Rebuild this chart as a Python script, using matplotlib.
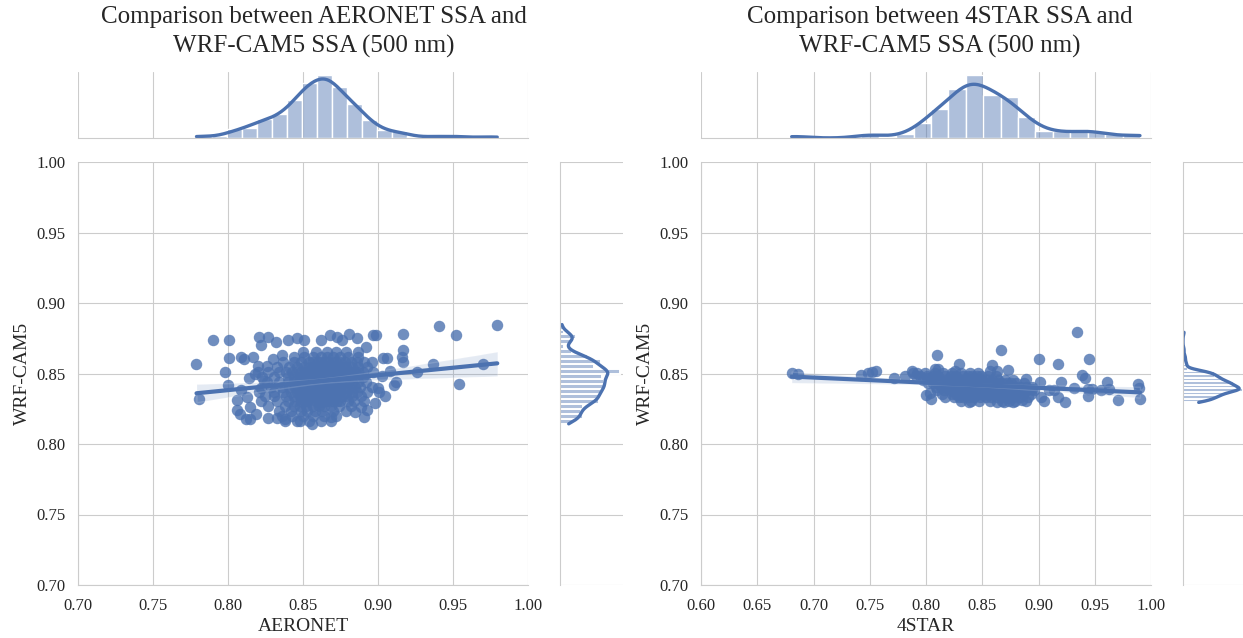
"""Two joint plots: WRF-CAM5 SSA against AERONET and 4STAR SSA (500 nm)."""

import matplotlib

matplotlib.use("Agg")
import matplotlib.pyplot as plt
import numpy as np
import seaborn as sns

BLUE = "#4c72b0"

# AERONET vs WRF-CAM5: dense core, one row of x values per WRF-CAM5 level
aeronet_row_y = [0.8161, 0.8196, 0.8231, 0.8266, 0.8302, 0.8337, 0.8372, 0.8407,
                 0.8442, 0.8477, 0.8513, 0.8548, 0.8583, 0.8618, 0.8653]
aeronet_row_x = [
    [0.838, 0.846, 0.854, 0.862, 0.869],
    [0.836, 0.843, 0.850, 0.857, 0.864, 0.872],
    [0.834, 0.842, 0.849, 0.853, 0.858, 0.863, 0.870, 0.879],
    [0.827, 0.838, 0.844, 0.848, 0.852, 0.857, 0.861, 0.864, 0.869, 0.874, 0.882],
    [0.822, 0.833, 0.840, 0.845, 0.849, 0.851, 0.853, 0.855, 0.859, 0.861, 0.863,
     0.864, 0.866, 0.868, 0.870, 0.873, 0.875, 0.880, 0.884, 0.891],
    [0.825, 0.831, 0.839, 0.844, 0.848, 0.850, 0.853, 0.856, 0.858, 0.860, 0.862,
     0.865, 0.868, 0.870, 0.872, 0.876, 0.879, 0.883, 0.889],
    [0.821, 0.831, 0.837, 0.842, 0.846, 0.849, 0.852, 0.854, 0.856, 0.859, 0.861,
     0.863, 0.865, 0.867, 0.870, 0.872, 0.875, 0.879, 0.883, 0.886, 0.893],
    [0.829, 0.836, 0.841, 0.845, 0.848, 0.851, 0.853, 0.856, 0.858, 0.860, 0.862,
     0.864, 0.866, 0.868, 0.870, 0.873, 0.875, 0.878, 0.881, 0.885, 0.888, 0.896],
    [0.826, 0.834, 0.840, 0.844, 0.847, 0.850, 0.852, 0.854, 0.856, 0.858, 0.861,
     0.863, 0.865, 0.867, 0.868, 0.871, 0.874, 0.877, 0.880, 0.883, 0.887, 0.892],
    [0.823, 0.831, 0.840, 0.844, 0.848, 0.850, 0.852, 0.854, 0.857, 0.859, 0.861,
     0.863, 0.865, 0.866, 0.868, 0.870, 0.873, 0.876, 0.878, 0.882, 0.886, 0.890],
    [0.820, 0.827, 0.834, 0.839, 0.843, 0.846, 0.849, 0.852, 0.853, 0.855, 0.857,
     0.858, 0.860, 0.862, 0.863, 0.864, 0.866, 0.867, 0.869, 0.870, 0.872, 0.874,
     0.876, 0.878, 0.880, 0.882, 0.885, 0.887, 0.890, 0.897],
    [0.833, 0.841, 0.846, 0.851, 0.854, 0.857, 0.860, 0.863, 0.865, 0.867, 0.870,
     0.873, 0.876, 0.879, 0.883, 0.887, 0.893],
    [0.837, 0.844, 0.849, 0.854, 0.857, 0.860, 0.862, 0.865, 0.867, 0.870, 0.872,
     0.875, 0.878, 0.882, 0.886, 0.891],
    [0.844, 0.851, 0.857, 0.862, 0.866, 0.870, 0.875, 0.880, 0.887],
    [0.850, 0.859, 0.866, 0.872, 0.879],
]
# AERONET scattered points around the core
aeronet_out_x = [0.779, 0.781, 0.790, 0.801, 0.798, 0.800, 0.801, 0.809, 0.811, 0.806,
                 0.806, 0.812, 0.815, 0.821, 0.827, 0.822, 0.832, 0.840, 0.846, 0.851,
                 0.862, 0.868, 0.873, 0.876, 0.881, 0.886, 0.892, 0.897, 0.899, 0.9165,
                 0.917, 0.916, 0.917, 0.9036, 0.906, 0.937, 0.9407, 0.952, 0.954, 0.970,
                 0.9795, 0.9258, 0.911, 0.912, 0.905, 0.900, 0.901, 0.885, 0.893, 0.889,
                 0.856, 0.869, 0.827, 0.833, 0.817, 0.820, 0.826, 0.809, 0.813, 0.815,
                 0.814, 0.818, 0.822, 0.824, 0.830, 0.836, 0.808, 0.819, 0.838, 0.848,
                 0.887, 0.896, 0.903, 0.908, 0.898, 0.891]
aeronet_out_y = [0.857, 0.832, 0.874, 0.874, 0.851, 0.842, 0.861, 0.862, 0.860, 0.831,
                 0.824, 0.818, 0.818, 0.876, 0.876, 0.870, 0.872, 0.874, 0.875, 0.874,
                 0.874, 0.8775, 0.876, 0.874, 0.8778, 0.875, 0.8686, 0.877, 0.877, 0.878,
                 0.867, 0.862, 0.858, 0.861, 0.861, 0.857, 0.8834, 0.8776, 0.8428, 0.857,
                 0.8847, 0.851, 0.842, 0.844, 0.834, 0.840, 0.837, 0.8224, 0.824, 0.826,
                 0.8143, 0.819, 0.8185, 0.8185, 0.862, 0.855, 0.855, 0.838, 0.833, 0.826,
                 0.847, 0.850, 0.840, 0.845, 0.860, 0.863, 0.821, 0.8215, 0.8175, 0.8165,
                 0.8655, 0.858, 0.848, 0.852, 0.829, 0.8195]

# 4STAR vs WRF-CAM5: dense core, one row of x values per WRF-CAM5 level
star_row_y = [0.8307, 0.8332, 0.8357, 0.8382, 0.8407, 0.8432, 0.8457, 0.8482, 0.8506]
star_row_x = [
    [0.831, 0.840, 0.847, 0.857, 0.868, 0.874, 0.879, 0.889, 0.905],
    [0.817, 0.825, 0.829, 0.833, 0.838, 0.843, 0.848, 0.853, 0.858, 0.863, 0.868,
     0.873, 0.878, 0.884, 0.891, 0.902],
    [0.814, 0.823, 0.827, 0.830, 0.834, 0.837, 0.840, 0.842, 0.845, 0.847, 0.850,
     0.853, 0.857, 0.861, 0.864, 0.869, 0.872, 0.876, 0.880, 0.886, 0.893],
    [0.810, 0.816, 0.822, 0.825, 0.828, 0.831, 0.834, 0.837, 0.839, 0.841, 0.843,
     0.845, 0.847, 0.849, 0.852, 0.855, 0.858, 0.862, 0.865, 0.868, 0.871, 0.874,
     0.877, 0.880, 0.885, 0.890, 0.896],
    [0.809, 0.813, 0.818, 0.821, 0.824, 0.827, 0.830, 0.833, 0.836, 0.838, 0.840,
     0.842, 0.844, 0.846, 0.848, 0.850, 0.852, 0.855, 0.858, 0.861, 0.865, 0.868,
     0.872, 0.875, 0.879, 0.884, 0.889, 0.894],
    [0.802, 0.806, 0.811, 0.816, 0.821, 0.824, 0.828, 0.831, 0.834, 0.836, 0.839,
     0.842, 0.844, 0.846, 0.848, 0.850, 0.853, 0.857, 0.860, 0.864, 0.868, 0.872,
     0.876, 0.880, 0.887],
    [0.797, 0.807, 0.812, 0.818, 0.821, 0.825, 0.829, 0.832, 0.835, 0.838, 0.841,
     0.844, 0.847, 0.850, 0.854, 0.859, 0.864, 0.870, 0.877],
    [0.791, 0.801, 0.806, 0.811, 0.817, 0.822, 0.827, 0.833, 0.837, 0.841, 0.845,
     0.849, 0.855, 0.862],
    [0.792, 0.799, 0.808, 0.815, 0.823, 0.831, 0.839, 0.846],
]
# 4STAR scattered points around the core
star_out_x = [0.6806, 0.6865, 0.742, 0.7487, 0.7517, 0.7556, 0.7716, 0.7813, 0.7873, 0.7887,
              0.7947, 0.8006, 0.8095, 0.808, 0.8104, 0.8296, 0.8258, 0.8584, 0.8664, 0.8732,
              0.863, 0.857, 0.9007, 0.917, 0.934, 0.9452, 0.9384, 0.9413, 0.9606, 0.9887,
              0.9893, 0.9902, 0.9709, 0.9236, 0.9176, 0.9443, 0.9318, 0.9436, 0.948, 0.956,
              0.9625, 0.920, 0.914, 0.909, 0.8044, 0.7996, 0.8035, 0.838, 0.8627, 0.869,
              0.877, 0.8853, 0.894, 0.901, 0.889]
star_out_y = [0.8503, 0.8499, 0.8487, 0.8503, 0.8508, 0.8518, 0.8468, 0.8484, 0.8515, 0.8503,
              0.848, 0.8468, 0.8629, 0.8532, 0.8532, 0.8567, 0.8515, 0.8562, 0.8669, 0.8527,
              0.8515, 0.8515, 0.8603, 0.8567, 0.8792, 0.8603, 0.8491, 0.8468, 0.8437, 0.8428,
              0.8397, 0.8321, 0.8314, 0.830, 0.8333, 0.8342, 0.8397, 0.8393, 0.8388, 0.8385,
              0.8392, 0.8437, 0.8382, 0.8382, 0.8319, 0.8349, 0.836, 0.8295, 0.8296, 0.830,
              0.830, 0.8314, 0.8388, 0.8437, 0.8461]

W, H = 1243, 638


def collect(row_y, row_x, out_x, out_y):
    xs = np.concatenate([np.asarray(r, float) for r in row_x] + [np.asarray(out_x, float)])
    ys = np.concatenate([np.full(len(r), yv) for yv, r in zip(row_y, row_x)]
                        + [np.asarray(out_y, float)])
    return xs, ys


def panel(fig, left, xs, ys, xlim, xticks, xlabel, title, title_x):
    joint = fig.add_axes([left / W, 53 / H, 450 / W, 423 / H])
    marg_x = fig.add_axes([left / W, 500 / H, 450 / W, 66 / H], sharex=joint)
    marg_y = fig.add_axes([(left + 482) / W, 53 / H, 63 / W, 423 / H], sharey=joint)

    sns.regplot(x=xs, y=ys, ax=joint, color=BLUE, seed=0,
                scatter_kws={"s": 68, "linewidths": 0}, line_kws={"lw": 3})
    joint.set_xlim(*xlim)
    joint.set_ylim(0.70, 1.00)
    joint.set_xticks(xticks)
    joint.set_yticks(np.arange(0.70, 1.001, 0.05))
    joint.set_xlabel(xlabel, fontsize=14, labelpad=3)
    joint.set_ylabel("WRF-CAM5", fontsize=14, labelpad=4)
    joint.tick_params(axis="x", labelsize=12, length=0, pad=9)
    joint.tick_params(axis="y", labelsize=12, length=0, pad=9)
    sns.despine(ax=joint)

    sns.histplot(x=xs, bins=20, stat="density", ax=marg_x, color=BLUE, alpha=0.45,
                 edgecolor="white", linewidth=1)
    sns.kdeplot(x=xs, cut=0, bw_adjust=0.8, ax=marg_x, color=BLUE, lw=2.4)
    sns.histplot(y=ys, bins=20, stat="density", ax=marg_y, color=BLUE, alpha=0.45,
                 edgecolor="white", linewidth=1.4)
    sns.kdeplot(y=ys, cut=0, bw_adjust=0.7, ax=marg_y, color=BLUE, lw=2.4)

    marg_x.yaxis.grid(False)
    marg_y.xaxis.grid(False)
    for ax in (marg_x, marg_y):
        ax.set_xlabel("")
        ax.set_ylabel("")
        ax.tick_params(length=0)
    plt.setp(marg_x.get_xticklabels(), visible=False)
    plt.setp(marg_x.get_yticklabels(), visible=False)
    plt.setp(marg_y.get_xticklabels(), visible=False)
    plt.setp(marg_y.get_yticklabels(), visible=False)
    sns.despine(ax=marg_x, left=True)
    sns.despine(ax=marg_y, bottom=True)

    fig.text(title_x / W, 1 - 32 / H, title, ha="center", va="center",
             fontsize=18, linespacing=1.35)


def main() -> None:
    sns.set_style("whitegrid")
    plt.rcParams["font.family"] = ["Liberation Serif", "DejaVu Serif"]
    plt.rcParams["text.color"] = "#262626"
    plt.rcParams["axes.labelcolor"] = "#262626"
    plt.rcParams["xtick.color"] = "#262626"
    plt.rcParams["ytick.color"] = "#262626"

    fig = plt.figure(figsize=(W / 100, H / 100), dpi=100)

    ax_x, ax_y = collect(aeronet_row_y, aeronet_row_x, aeronet_out_x, aeronet_out_y)
    panel(fig, 78, ax_x, ax_y, (0.70, 1.00), np.arange(0.70, 1.001, 0.05), "AERONET",
          "Comparison between AERONET SSA and\nWRF-CAM5 SSA (500 nm)", 314)

    st_x, st_y = collect(star_row_y, star_row_x, star_out_x, star_out_y)
    panel(fig, 701, st_x, st_y, (0.60, 1.00), np.arange(0.60, 1.001, 0.05), "4STAR",
          "Comparison between 4STAR SSA and\nWRF-CAM5 SSA (500 nm)", 940)

    fig.savefig("out.png", dpi=100)


if __name__ == "__main__":
    main()
